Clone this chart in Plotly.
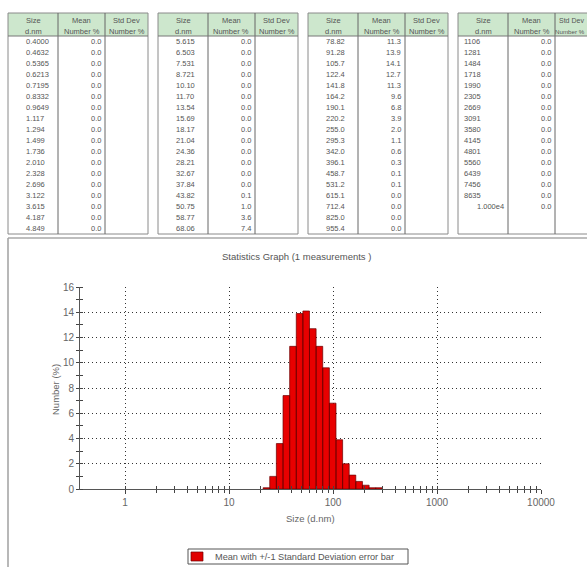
import math
import plotly.graph_objects as go

W, H = 587, 567
FONT = "Liberation Sans, Arial, sans-serif"

# ---------------- data ----------------
sizes_1 = ["0.4000", "0.4632", "0.5365", "0.6213", "0.7195", "0.8332", "0.9649", "1.117", "1.294",
           "1.499", "1.736", "2.010", "2.328", "2.696", "3.122", "3.615", "4.187", "4.849"]
means_1 = [0.0] * 18

sizes_2 = ["5.615", "6.503", "7.531", "8.721", "10.10", "11.70", "13.54", "15.69", "18.17",
           "21.04", "24.36", "28.21", "32.67", "37.84", "43.82", "50.75", "58.77", "68.06"]
means_2 = [0.0, 0.0, 0.0, 0.0, 0.0, 0.0, 0.0, 0.0, 0.0, 0.0, 0.0, 0.0, 0.0, 0.0, 0.1, 1.0, 3.6, 7.4]

sizes_3 = ["78.82", "91.28", "105.7", "122.4", "141.8", "164.2", "190.1", "220.2", "255.0",
           "295.3", "342.0", "396.1", "458.7", "531.2", "615.1", "712.4", "825.0", "955.4"]
means_3 = [11.3, 13.9, 14.1, 12.7, 11.3, 9.6, 6.8, 3.9, 2.0, 1.1, 0.6, 0.3, 0.1, 0.1, 0.0, 0.0, 0.0, 0.0]

sizes_4 = ["1106", "1281", "1484", "1718", "1990", "2305", "2669", "3091", "3580",
           "4145", "4801", "5560", "6439", "7456", "8635", "1.000e4"]
means_4 = [0.0] * 16

# bar centres (d.nm) of the non-zero bars, as positioned in the graph
graph_sizes = [22.9, 26.5, 30.7, 35.6, 41.2, 47.7, 55.2, 63.9, 74.0,
               85.7, 99.3, 115.0, 133.0, 154.0, 178.0, 207.0, 239.0, 277.0]
graph_values = means_2[14:] + means_3[:14]

x_tick_vals = [1, 10, 100, 1000, 10000]
x_tick_text = ["1", "10", "100", "1000", "10000"]
y_tick_vals = [0, 2, 4, 6, 8, 10, 12, 14, 16]

tables = [(sizes_1, means_1), (sizes_2, means_2), (sizes_3, means_3), (sizes_4, means_4)]

# ---------------- helpers ----------------
def px(x):
    return min(max(x, 0), W) / W

def py(y):
    return 1 - min(max(y, 0), H) / H

shapes = []
annotations = []

def line(x0, y0, x1, y1, color="#7a7a7a", width=1):
    shapes.append(dict(type="line", xref="paper", yref="paper", x0=px(x0), y0=py(y0),
                       x1=px(x1), y1=py(y1), line=dict(color=color, width=width), layer="below"))

def rect(x0, y0, x1, y1, fill=None, color="#7a7a7a", width=1):
    shapes.append(dict(type="rect", xref="paper", yref="paper", x0=px(x0), y0=py(y0),
                       x1=px(x1), y1=py(y1), fillcolor=fill or "rgba(0,0,0,0)",
                       line=dict(color=color, width=width), layer="below"))

def fillrect(x0, y0, x1, y1, fill):
    shapes.append(dict(type="rect", xref="paper", yref="paper", x0=px(x0), y0=py(y0),
                       x1=px(x1), y1=py(y1), fillcolor=fill, line=dict(width=0), layer="below"))

def text(x, y, s, size=7.5, color="#555", xanchor="center", angle=0):
    annotations.append(dict(xref="paper", yref="paper", x=x / W, y=1 - y / H, text=s, showarrow=False,
                            xanchor=xanchor, yanchor="middle", textangle=angle,
                            font=dict(family=FONT, size=size, color=color)))

# ---------------- tables ----------------
table_lefts = [8, 158, 308, 458]
col_w = [50, 47, 43]
top, head_bot, bot = 13, 36, 234
row0, row_h = 41.4, 11.0

for ti, (tl, (szs, mns)) in enumerate(zip(table_lefts, tables)):
    c1 = tl + col_w[0]
    c2 = c1 + col_w[1]
    c3 = c2 + col_w[2]
    right = min(c3, W)
    fillrect(tl, top, right, head_bot, "#cde7cd")
    line(tl, top, right, top, color="#8a8a8a")
    line(tl, bot, right, bot, color="#8a8a8a")
    line(tl, top, tl, bot, color="#8a8a8a")
    if c3 < W:
        line(c3, top, c3, bot, color="#8a8a8a")
    line(c1, top, c1, bot, color="#666")
    line(c2, top, c2, bot, color="#666")
    line(tl, head_bot, right, head_bot, color="#777")
    # headers
    text((tl + c1) / 2, 20, "Size", size=7.5)
    text((tl + c1) / 2, 31, "d.nm", size=7.5)
    text((c1 + c2) / 2, 20, "Mean", size=7.5)
    text((c1 + c2) / 2, 31, "Number %", size=7.5)
    if c3 <= W:
        text((c2 + c3) / 2, 20, "Std Dev", size=7.5)
        text((c2 + c3) / 2, 31, "Number %", size=7.5)
    else:
        text(W - 1, 20, "Std Dev", size=7, xanchor="right")
        text(W - 0.5, 31, "Number %", size=6.2, xanchor="right")
    for i, (s, m) in enumerate(zip(szs, mns)):
        yy = row0 + i * row_h
        if "e" in s:
            text(tl + 48, yy, s, xanchor="right")
        elif ti == 3:
            text(tl + 4, yy, s, xanchor="left")
        else:
            text(tl + 16, yy, s, xanchor="left")
        text(c2 - 2, yy, f"{m:.1f}", xanchor="right")

# ---------------- graph frame / labels ----------------
line(8, 238, W, 238, color="#a8a8a8", width=1.5)
line(8, 238, 8, H, color="#a0a0a0", width=1.5)
text(296.5, 256, "Statistics Graph (1 measurements )", size=9.5, color="#555")
text(55, 390, "Number (%)", size=9.5, color="#666", angle=-90)
text(310, 518, "Size (d.nm)", size=9.5, color="#666")

# legend (drawn manually)
rect(188, 549, 408, 564, color="#555", width=1)
shapes.append(dict(type="rect", xref="paper", yref="paper", x0=px(191), y0=py(561), x1=px(203),
                   y1=py(552), fillcolor="#e00000", line=dict(color="#700000", width=0.7)))
text(213, 557, "Mean with +/-1 Standard Deviation error bar", size=9.2, color="#555", xanchor="left")

# ---------------- bars ----------------
n = len(graph_sizes)
edges = [graph_sizes[0] / math.sqrt(graph_sizes[1] / graph_sizes[0])]
for i in range(1, n):
    edges.append(math.sqrt(graph_sizes[i - 1] * graph_sizes[i]))
edges.append(graph_sizes[-1] * math.sqrt(graph_sizes[-1] / graph_sizes[-2]))

xs, ys = [], []
for i, v in enumerate(graph_values):
    l, r = edges[i], edges[i + 1]
    xs += [l, l, r, r, l, None]
    ys += [0, v, v, 0, 0, None]

fig = go.Figure()
fig.add_trace(go.Scatter(x=xs, y=ys, mode="lines", fill="toself", fillcolor="#e80000",
                         line=dict(color="#6a0000", width=0.7), hoverinfo="skip",
                         showlegend=False, name="Mean with +/-1 Standard Deviation error bar"))
# empty helper trace so the overlay axes (inner half of crossing ticks) are drawn
fig.add_trace(go.Scatter(x=[], y=[], xaxis="x2", yaxis="y2", showlegend=False, hoverinfo="skip"))

minor_x = [m * 10 ** d for d in range(0, 4) for m in range(2, 10)]
x_dom = [px(80), px(541)]
y_dom = [1 - 489 / H, 1 - 287 / H]
x_rng = [-0.433, 4]
y_rng = [0, 16]

fig.update_layout(
    width=W, height=H, margin=dict(l=0, r=0, t=0, b=0, autoexpand=False),
    paper_bgcolor="white", plot_bgcolor="white",
    showlegend=False,
    font=dict(family=FONT, color="#666"),
    xaxis=dict(type="log", range=x_rng, domain=x_dom,
               tickvals=x_tick_vals, ticktext=x_tick_text, tickfont=dict(size=10, color="#666"),
               ticks="outside", ticklen=4, tickcolor="#444",
               showline=True, linecolor="#555", linewidth=1,
               showgrid=True, gridcolor="#333", griddash="1px,3px", gridwidth=1,
               zeroline=False,
               minor=dict(tickvals=minor_x, ticks="outside", ticklen=3, tickcolor="#444", showgrid=False)),
    yaxis=dict(range=y_rng, domain=y_dom,
               tickvals=y_tick_vals, tickfont=dict(size=10, color="#666"),
               ticks="outside", ticklen=3, tickcolor="#444",
               showline=True, linecolor="#555", linewidth=1,
               showgrid=True, gridcolor="#333", griddash="1px,3px", gridwidth=1,
               zeroline=False,
               minor=dict(dtick=1, ticks="outside", ticklen=3, tickcolor="#444", showgrid=False)),
    xaxis2=dict(type="log", range=x_rng, domain=x_dom, overlaying="x", anchor="y2",
                tickvals=x_tick_vals, showticklabels=False, ticks="inside", ticklen=3, tickcolor="#444",
                showline=False, showgrid=False, zeroline=False,
                minor=dict(tickvals=minor_x, ticks="inside", ticklen=3, tickcolor="#444", showgrid=False)),
    yaxis2=dict(range=y_rng, domain=y_dom, overlaying="y", anchor="x2",
                tickvals=y_tick_vals, showticklabels=False, ticks="",
                showline=False, showgrid=False, zeroline=False,
                minor=dict(dtick=1, ticks="inside", ticklen=3, tickcolor="#444", showgrid=False)),
    shapes=shapes,
    annotations=annotations,
)

post = """
var st = document.documentElement.style; st.margin='0'; st.padding='0'; st.overflow='hidden';
var bs = document.body.style; bs.margin='0'; bs.padding='0'; bs.overflow='hidden';
"""

fig.write_html("out.html", config={"displayModeBar": False}, post_script=post)
